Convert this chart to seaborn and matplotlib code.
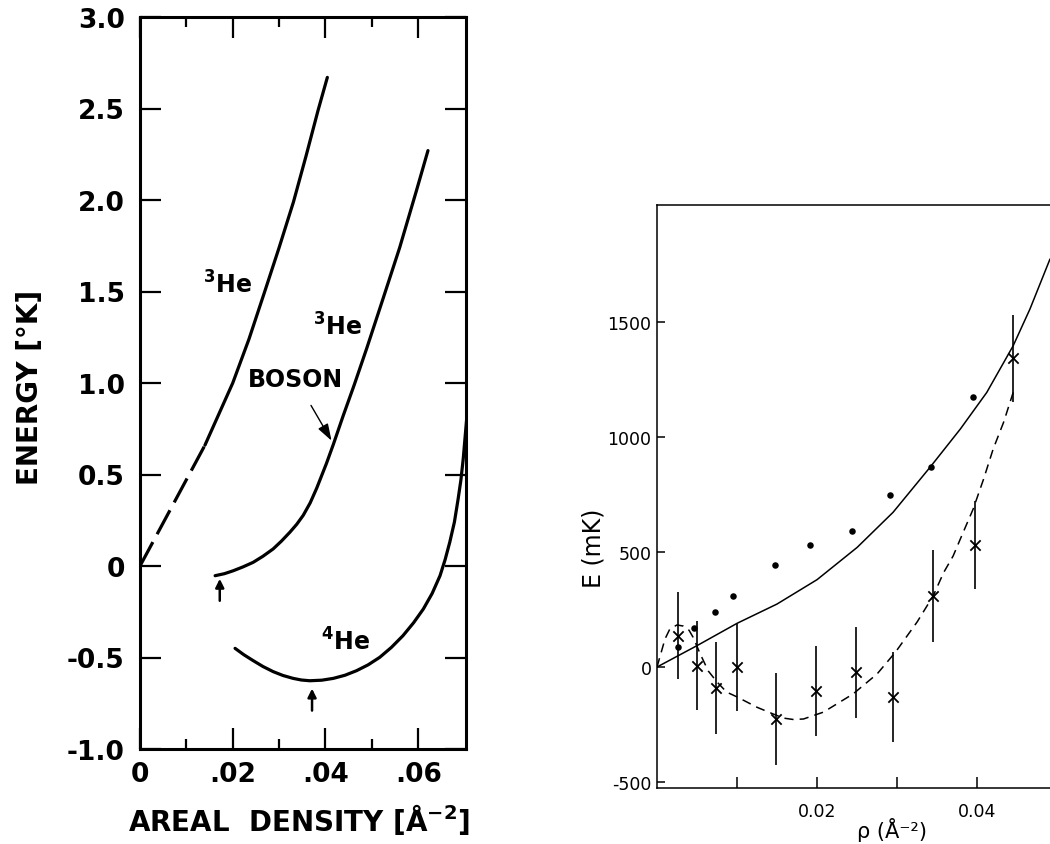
import numpy as np
import pandas as pd
import matplotlib
matplotlib.use("Agg")
import matplotlib.pyplot as plt
import seaborn as sns

# ---------------- left panel data (energy, K vs areal density, A^-2) ----------
he3_dash_x = [0.0, 0.0035, 0.0070, 0.0105, 0.0140]
he3_dash_y = [0.0, 0.165, 0.33, 0.495, 0.66]
he3_x = [0.0140, 0.0170, 0.0200, 0.0235, 0.0269, 0.0300, 0.0331, 0.0358, 0.0384, 0.0404]
he3_y = [0.66, 0.83, 1.00, 1.24, 1.50, 1.74, 1.99, 2.24, 2.49, 2.67]
boson_x = [0.0162, 0.0182, 0.0201, 0.0222, 0.0244, 0.0265, 0.0287, 0.0305, 0.0323,
           0.0338, 0.0352, 0.0367, 0.0381, 0.0402, 0.0417, 0.0438, 0.0462, 0.0489,
           0.0524, 0.0560, 0.0596, 0.0621]
boson_y = [-0.053, -0.042, -0.026, -0.005, 0.020, 0.053, 0.093, 0.136, 0.184,
           0.228, 0.277, 0.345, 0.425, 0.56, 0.665, 0.82, 0.99, 1.19,
           1.46, 1.74, 2.05, 2.27]
he4_x = [0.0205, 0.0224, 0.0244, 0.0265, 0.0287, 0.0308, 0.0330, 0.0348, 0.0366,
         0.0392, 0.0417, 0.0442, 0.0467, 0.0492, 0.0517, 0.0542, 0.0567, 0.0590,
         0.0611, 0.0630, 0.0647, 0.0658, 0.0668, 0.0678, 0.0686, 0.0692, 0.0697, 0.0706]
he4_y = [-0.45, -0.485, -0.517, -0.549, -0.577, -0.598, -0.614, -0.623, -0.627,
         -0.624, -0.614, -0.597, -0.572, -0.540, -0.499, -0.445, -0.381, -0.310,
         -0.235, -0.150, -0.053, 0.035, 0.130, 0.240, 0.366, 0.470, 0.585, 0.85]
left_xticks = [0.0, 0.02, 0.04, 0.06]
left_xticklabels = ["0", ".02", ".04", ".06"]
left_yticks = [-1.0, -0.5, 0.0, 0.5, 1.0, 1.5, 2.0, 2.5, 3.0]
left_yticklabels = ["-1.0", "-0.5", "0", "0.5", "1.0", "1.5", "2.0", "2.5", "3.0"]

# ---------------- right panel data (E, mK vs rho, A^-2) ----------------------
solid_x = [0.0, 0.005, 0.010, 0.015, 0.020, 0.025, 0.0295, 0.0341, 0.0379,
           0.0412, 0.0445, 0.0466, 0.0491]
solid_y = [0, 93, 190, 274, 380, 520, 673, 868, 1035, 1194, 1397, 1557, 1774]
fit_x = [0.0, 0.0010, 0.0016, 0.0025, 0.0033, 0.0040, 0.0045, 0.0054, 0.0064,
         0.0075, 0.0087, 0.0100, 0.0125, 0.0145, 0.0158, 0.0170, 0.0183, 0.0208,
         0.0245, 0.0275, 0.0298, 0.0325, 0.0345, 0.0358, 0.0370, 0.0379, 0.0395,
         0.0408, 0.0420, 0.0433, 0.0445]
fit_y = [0, 122, 165, 183, 178, 160, 130, 57, -17, -65, -109, -130, -175, -204,
         -222, -228, -226, -196, -117, -30, 65, 196, 309, 410, 483, 557, 687,
         817, 948, 1064, 1194]
dot_x = [0.0026, 0.0046, 0.0073, 0.0095, 0.0148, 0.0191, 0.0244, 0.0291, 0.0342, 0.0395]
dot_y = [85, 170, 240, 309, 443, 530, 591, 749, 871, 1173]
cross_x = [0.0026, 0.0050, 0.0074, 0.0100, 0.0149, 0.0199, 0.0248, 0.0295,
           0.0345, 0.0397, 0.0445]
cross_y = [137, 6, -93, -2, -226, -104, -22, -130, 309, 530, 1342]
cross_err = [190, 195, 200, 190, 200, 195, 198, 195, 198, 190, 190]
right_xticks = [0.01, 0.02, 0.03, 0.04]
right_xticklabels = ["", "0.02", "", "0.04"]
right_yticks = [-500, 0, 500, 1000, 1500]
right_yticklabels = ["-500", "0", "500", "1000", "1500"]

# ---------------- style ------------------------------------------------------
sns.set_style("ticks")
plt.rcParams["font.family"] = ["DejaVu Sans"]
plt.rcParams["mathtext.fontset"] = "dejavusans"
for key in ["text.color", "axes.labelcolor", "xtick.color", "ytick.color",
            "xtick.labelcolor", "ytick.labelcolor", "axes.edgecolor"]:
    plt.rcParams[key] = "black"

fig = plt.figure(figsize=(10.5, 8.45), dpi=100)
W, H = 1050.0, 845.0
axL = fig.add_axes([140 / W, 1 - 750 / H, 326 / W, 732 / H])
axR = fig.add_axes([657 / W, 1 - 789 / H, 393 / W, 583 / H])

# ---------------- left panel -------------------------------------------------
lw = 2.3
sns.lineplot(x=he3_dash_x, y=he3_dash_y, ax=axL, color="black", lw=lw,
             sort=False, estimator=None, linestyle=(0, (8.5, 2.8)))
for xs, ys in [(he3_x, he3_y), (boson_x, boson_y), (he4_x, he4_y)]:
    sns.lineplot(x=xs, y=ys, ax=axL, color="black", lw=lw, sort=False,
                 estimator=None)

axL.set_xlim(0, 0.0703)
axL.set_ylim(-1.0, 3.0)
axL.set_xticks(left_xticks)
axL.set_xticklabels(left_xticklabels)
axL.set_xticks([0.01, 0.03, 0.05], minor=True)
axL.set_yticks(left_yticks)
axL.set_yticklabels(left_yticklabels)
for s in axL.spines.values():
    s.set_visible(True)
    s.set_linewidth(2.2)
    s.set_color("black")
axL.tick_params(which="both", direction="in", top=True, right=True,
                width=1.6, color="black", labelcolor="black")
axL.tick_params(which="major", length=15)
axL.tick_params(which="minor", length=7.5)
axL.tick_params(axis="y", which="major", labelsize=19, pad=11)
axL.tick_params(axis="x", which="major", labelsize=19, pad=9)
for t in axL.get_xticklabels() + axL.get_yticklabels():
    t.set_fontweight("bold")

bold = dict(fontweight="bold", color="black")
axL.text(0.0188, 1.54, r"$\mathbf{^{3}He}$", fontsize=17, ha="center", va="center")
axL.text(0.0427, 1.31, r"$\mathbf{^{3}He}$", fontsize=17, ha="center", va="center")
axL.text(0.0444, -0.41, r"$\mathbf{^{4}He}$", fontsize=17, ha="center", va="center")
axL.annotate("BOSON", xy=(0.0413, 0.685), xytext=(0.0336, 1.02),
             fontsize=17, ha="center", va="center", **bold,
             arrowprops=dict(arrowstyle="-|>,head_length=0.6,head_width=0.2",
                             color="black", lw=1.0, shrinkA=9, shrinkB=0))
for ax_x, y0, y1 in [(0.0172, -0.19, -0.07), (0.0371, -0.79, -0.67)]:
    axL.annotate("", xy=(ax_x, y1), xytext=(ax_x, y0),
                 arrowprops=dict(arrowstyle="-|>,head_length=0.5,head_width=0.25",
                                 color="black", lw=1.8, shrinkA=0, shrinkB=0))

fig.text(30 / W, 1 - 387 / H, "ENERGY [°K]", rotation=90, fontsize=20,
         ha="center", va="center", **bold)
fig.text(299 / W, 1 - 820 / H, r"AREAL  DENSITY [$\mathbf{\AA^{-2}}$]",
         fontsize=20, ha="center", va="center", **bold)

# ---------------- right panel ------------------------------------------------
lw2 = 1.1
sns.lineplot(x=solid_x, y=solid_y, ax=axR, color="black", lw=lw2, sort=False,
             estimator=None)
sns.lineplot(x=fit_x, y=fit_y, ax=axR, color="black", lw=lw2, sort=False,
             estimator=None, linestyle=(0, (6, 4)))
cx = np.array(cross_x)
cy = np.array(cross_y)
ce = np.array(cross_err)
axR.vlines(cx, cy - ce, cy + ce, color="black", lw=1.2)
sns.scatterplot(x=cross_x, y=cross_y, ax=axR, marker="x", color="black", s=55,
                linewidth=1.3)
sns.scatterplot(x=dot_x, y=dot_y, ax=axR, marker="o", color="black", s=22,
                edgecolor="black", linewidth=0)

axR.set_xlim(0, 0.0491)
axR.set_ylim(-526, 2009)
axR.set_xticks(right_xticks)
axR.set_xticklabels(right_xticklabels)
axR.set_yticks(right_yticks)
axR.set_yticklabels(right_yticklabels)
for name, s in axR.spines.items():
    s.set_linewidth(1.1)
    s.set_color("black")
    s.set_visible(name != "right")
axR.tick_params(direction="in", width=1.1, color="black", labelcolor="black",
                labelsize=12.5)
axR.tick_params(axis="y", length=6, pad=4)
axR.tick_params(axis="x", length=8, pad=10)

fig.text(593 / W, 1 - 548 / H, "E (mK)", rotation=90, fontsize=17,
         ha="center", va="center")
fig.text(892 / W, 1 - 830 / H, "ρ (Å⁻²)", fontsize=15, ha="center", va="center")

fig.savefig("out.png", dpi=100, facecolor="white")
